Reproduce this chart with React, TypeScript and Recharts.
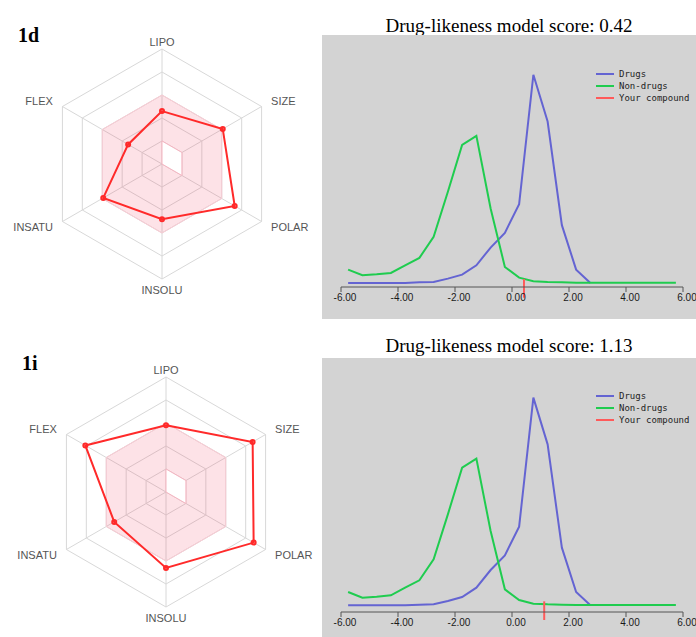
import React from 'react';
import {
  RadarChart,
  Radar,
  PolarGrid,
  PolarAngleAxis,
  PolarRadiusAxis,
  LineChart,
  Line,
  XAxis,
  YAxis,
  ReferenceLine,
  Legend,
} from 'recharts';

// bioavailability radar (values as fraction of the outer ring)
const radarAxes = ['LIPO', 'SIZE', 'POLAR', 'INSOLU', 'INSATU', 'FLEX'];
const optimalMax = [0.6, 0.6, 0.6, 0.6, 0.6, 0.6];
const optimalMin = [0.2, 0.2, 0.2, 0, 0, 0];
const radar1d = [0.46, 0.61, 0.73, 0.48, 0.59, 0.34];
const radar1i = [0.58, 0.87, 0.88, 0.66, 0.52, 0.81];

// drug-likeness score distributions (relative frequency)
const scoreBins = [
  -5.75, -5.25, -4.75, -4.25, -3.75, -3.25, -2.75, -2.25, -1.75, -1.25, -0.75, -0.25,
  0.25, 0.75, 1.25, 1.75, 2.25, 2.75, 3.25, 3.75, 4.25, 4.75, 5.25, 5.75,
];
const drugsFreq = [
  0, 0, 0, 0, 0, 2, 3, 13, 25, 53, 106, 150,
  236, 623, 483, 173, 40, 0, null, null, null, null, null, null,
];
const nonDrugsFreq = [
  40, 23, 26, 30, 53, 75, 138, 273, 413, 440, 223, 48,
  16, 5, 3, 2, 1, 1, 1, 1, 1, 1, 1, 1,
];
const xTicks = [-6, -4, -2, 0, 2, 4, 6];
const compoundNames = ['1d', '1i'];
const compoundScores = [0.42, 1.13];
const legendNames = ['Drugs', 'Non-drugs', 'Your compound'];
const legendColors = ['#6464d2', '#1fcc4f', '#ff5a5a'];

const radarSets = [radar1d, radar1i];
const OUTER = 115;

const distData = scoreBins.map((x, i) => ({
  x,
  drugs: drugsFreq[i],
  nonDrugs: nonDrugsFreq[i],
}));

const AxisTick = (props: any) => {
  const { x, y, textAnchor, payload, cy } = props;
  const shift = textAnchor === 'middle' && cy !== undefined && y < cy ? 4 : 0;
  return (
    <text
      x={x}
      y={y + shift}
      dy="0.35em"
      textAnchor={textAnchor}
      fontSize={11}
      fill="#555"
      fontFamily="Liberation Sans, Arial, sans-serif"
    >
      {payload.value}
    </text>
  );
};

const LegendBox = () => (
  <div
    style={{
      fontFamily: 'DejaVu Sans Mono, monospace',
      fontSize: 9,
      color: '#222',
      lineHeight: '12px',
    }}
  >
    {legendNames.map((name, i) => (
      <div key={name} style={{ display: 'flex', alignItems: 'center', height: 12 }}>
        <span
          style={{
            display: 'inline-block',
            width: 18,
            height: 2,
            background: legendColors[i],
            marginRight: 5,
          }}
        />
        {name}
      </div>
    ))}
  </div>
);

interface RowProps {
  index: number;
  top: number;
  cx: number;
  cy: number;
  labelTop: number;
  labelLeft: number;
  titleTop: number;
  panelTop: number;
  panelHeight: number;
  yMin: number;
  bottom: number;
  legendTop: number;
}

const Row: React.FC<RowProps> = ({
  index,
  top,
  cx,
  cy,
  labelTop,
  labelLeft,
  titleTop,
  panelTop,
  panelHeight,
  yMin,
  bottom,
  legendTop,
}) => {
  const values = radarSets[index];
  const radarData = radarAxes.map((axis, i) => ({
    axis,
    max: optimalMax[i],
    min: optimalMin[i],
    compound: values[i],
  }));
  const score = compoundScores[index];

  return (
    <>
      <div style={{ position: 'absolute', left: 0, top, width: 320, height: 320 }}>
        <RadarChart width={320} height={320} cx={cx} cy={cy} outerRadius={OUTER} data={radarData}>
          <PolarGrid
            gridType="polygon"
            stroke="#d8d8d8"
            polarRadius={[0.2, 0.4, 0.6, 0.8, 1].map((f) => f * OUTER)}
          />
          <PolarRadiusAxis domain={[0, 1]} tickCount={6} tick={false} axisLine={false} />
          <PolarAngleAxis dataKey="axis" tick={<AxisTick />} tickLine={false} axisLine={false} tickSize={11} />
          <Radar
            dataKey="max"
            stroke="#f9cdd5"
            strokeWidth={1}
            fill="#f43f5e"
            fillOpacity={0.15}
            isAnimationActive={false}
          />
          <Radar
            dataKey="min"
            stroke="#f5b5c1"
            strokeWidth={1}
            fill="#ffffff"
            fillOpacity={1}
            isAnimationActive={false}
          />
          <Radar
            dataKey="compound"
            stroke="#ff2a2a"
            strokeWidth={2}
            fill="none"
            fillOpacity={0}
            dot={{ r: 2, fill: '#ff2a2a', stroke: '#ff2a2a' }}
            isAnimationActive={false}
          />
        </RadarChart>
      </div>
      <div
        style={{
          position: 'absolute',
          left: labelLeft,
          top: labelTop,
          fontFamily: 'Liberation Serif, serif',
          fontWeight: 'bold',
          fontSize: 20,
          color: '#000',
        }}
      >
        {compoundNames[index]}
      </div>
      <div
        style={{
          position: 'absolute',
          left: 322,
          top: titleTop,
          width: 374,
          textAlign: 'center',
          fontFamily: 'Liberation Serif, serif',
          fontSize: 19,
          color: '#000',
          whiteSpace: 'nowrap',
        }}
      >
        Drug-likeness model score: {score.toFixed(2)}
      </div>
      <div
        style={{
          position: 'absolute',
          left: 322,
          top: panelTop,
          width: 374,
          height: panelHeight,
          background: '#d3d3d3',
        }}
      >
        <LineChart
          width={374}
          height={panelHeight}
          data={distData}
          margin={{ top: 14, right: 13, left: 19, bottom }}
        >
          <XAxis
            dataKey="x"
            type="number"
            domain={[-6, 6]}
            ticks={xTicks}
            allowDataOverflow
            tickFormatter={(v: number) => v.toFixed(2)}
            stroke="#555"
            tickSize={5}
            height={20}
            tick={{ fontSize: 10, fill: '#1a1a1a', fontFamily: 'Liberation Sans, Arial, sans-serif', dx: 4 }}
          />
          <YAxis hide type="number" domain={[yMin, 700]} allowDataOverflow />
          <Line
            type="linear"
            dataKey="drugs"
            stroke={legendColors[0]}
            strokeWidth={2}
            dot={false}
            isAnimationActive={false}
          />
          <Line
            type="linear"
            dataKey="nonDrugs"
            stroke={legendColors[1]}
            strokeWidth={2}
            dot={false}
            isAnimationActive={false}
          />
          <ReferenceLine
            segment={[
              { x: score, y: -44 },
              { x: score, y: 12 },
            ]}
            stroke={legendColors[2]}
            strokeWidth={2}
            ifOverflow="visible"
          />
          <Legend
            layout="vertical"
            align="center"
            verticalAlign="middle"
            content={<LegendBox />}
            wrapperStyle={{ left: 274, top: legendTop, width: 100 }}
          />
        </LineChart>
      </div>
    </>
  );
};

export default function App() {
  return (
    <div
      style={{
        position: 'absolute',
        left: 0,
        top: 0,
        width: 696,
        height: 637,
        background: '#fff',
        overflow: 'hidden',
      }}
    >
      <Row
        index={0}
        top={0}
        cx={162}
        cy={164}
        labelTop={24}
        labelLeft={18}
        titleTop={15}
        panelTop={35}
        panelHeight={284}
        yMin={-12}
        bottom={12}
        legendTop={33}
      />
      <Row
        index={1}
        top={322}
        cx={166}
        cy={170}
        labelTop={352}
        labelLeft={22}
        titleTop={335}
        panelTop={358}
        panelHeight={279}
        yMin={-20}
        bottom={5}
        legendTop={32}
      />
    </div>
  );
}
